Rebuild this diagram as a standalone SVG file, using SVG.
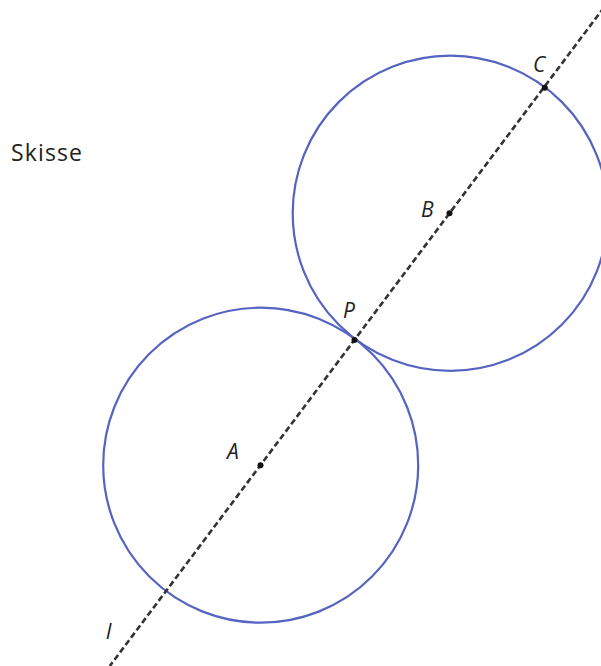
<svg xmlns="http://www.w3.org/2000/svg" width="601" height="666" viewBox="0 0 601 666">
<style>
.circle{fill:none;stroke:#5563c1;stroke-width:2.2}
.line{stroke:#333;stroke-width:2.6;stroke-dasharray:6 3.2;fill:none}
.pt{fill:#111}
.lbl{font-family:"Open Sans","DejaVu Sans",sans-serif;font-style:italic;font-size:21px;fill:#222}
.title{font-family:"Open Sans","DejaVu Sans",sans-serif;font-size:23px;fill:#222}
</style>
<rect width="601" height="666" fill="#fff"/>
<text class="title" x="11" y="161" textLength="71" lengthAdjust="spacing">Skisse</text>
<g id="circleA"><circle class="circle" cx="260.7" cy="465.2" r="157.5"/></g>
<g id="circleB"><circle class="circle" cx="450.3" cy="213.3" r="157.6"/></g>
<g id="connectors"><line class="line" x1="609.5" y1="0" x2="109.8" y2="666"/></g>
<g id="pointA"><circle class="pt" cx="260.5" cy="465.2" r="3"/><text class="lbl" x="227" y="459">A</text></g>
<g id="pointB"><circle class="pt" cx="449.5" cy="213.3" r="3"/><text class="lbl" x="421" y="217">B</text></g>
<g id="pointC"><circle class="pt" cx="544.8" cy="87.8" r="3"/><text class="lbl" x="533" y="72">C</text></g>
<g id="pointP"><circle class="pt" cx="354.5" cy="340" r="3"/><text class="lbl" x="343" y="318">P</text></g>
<g id="lineLabel"><text class="lbl" x="106" y="639">l</text></g>
</svg>
